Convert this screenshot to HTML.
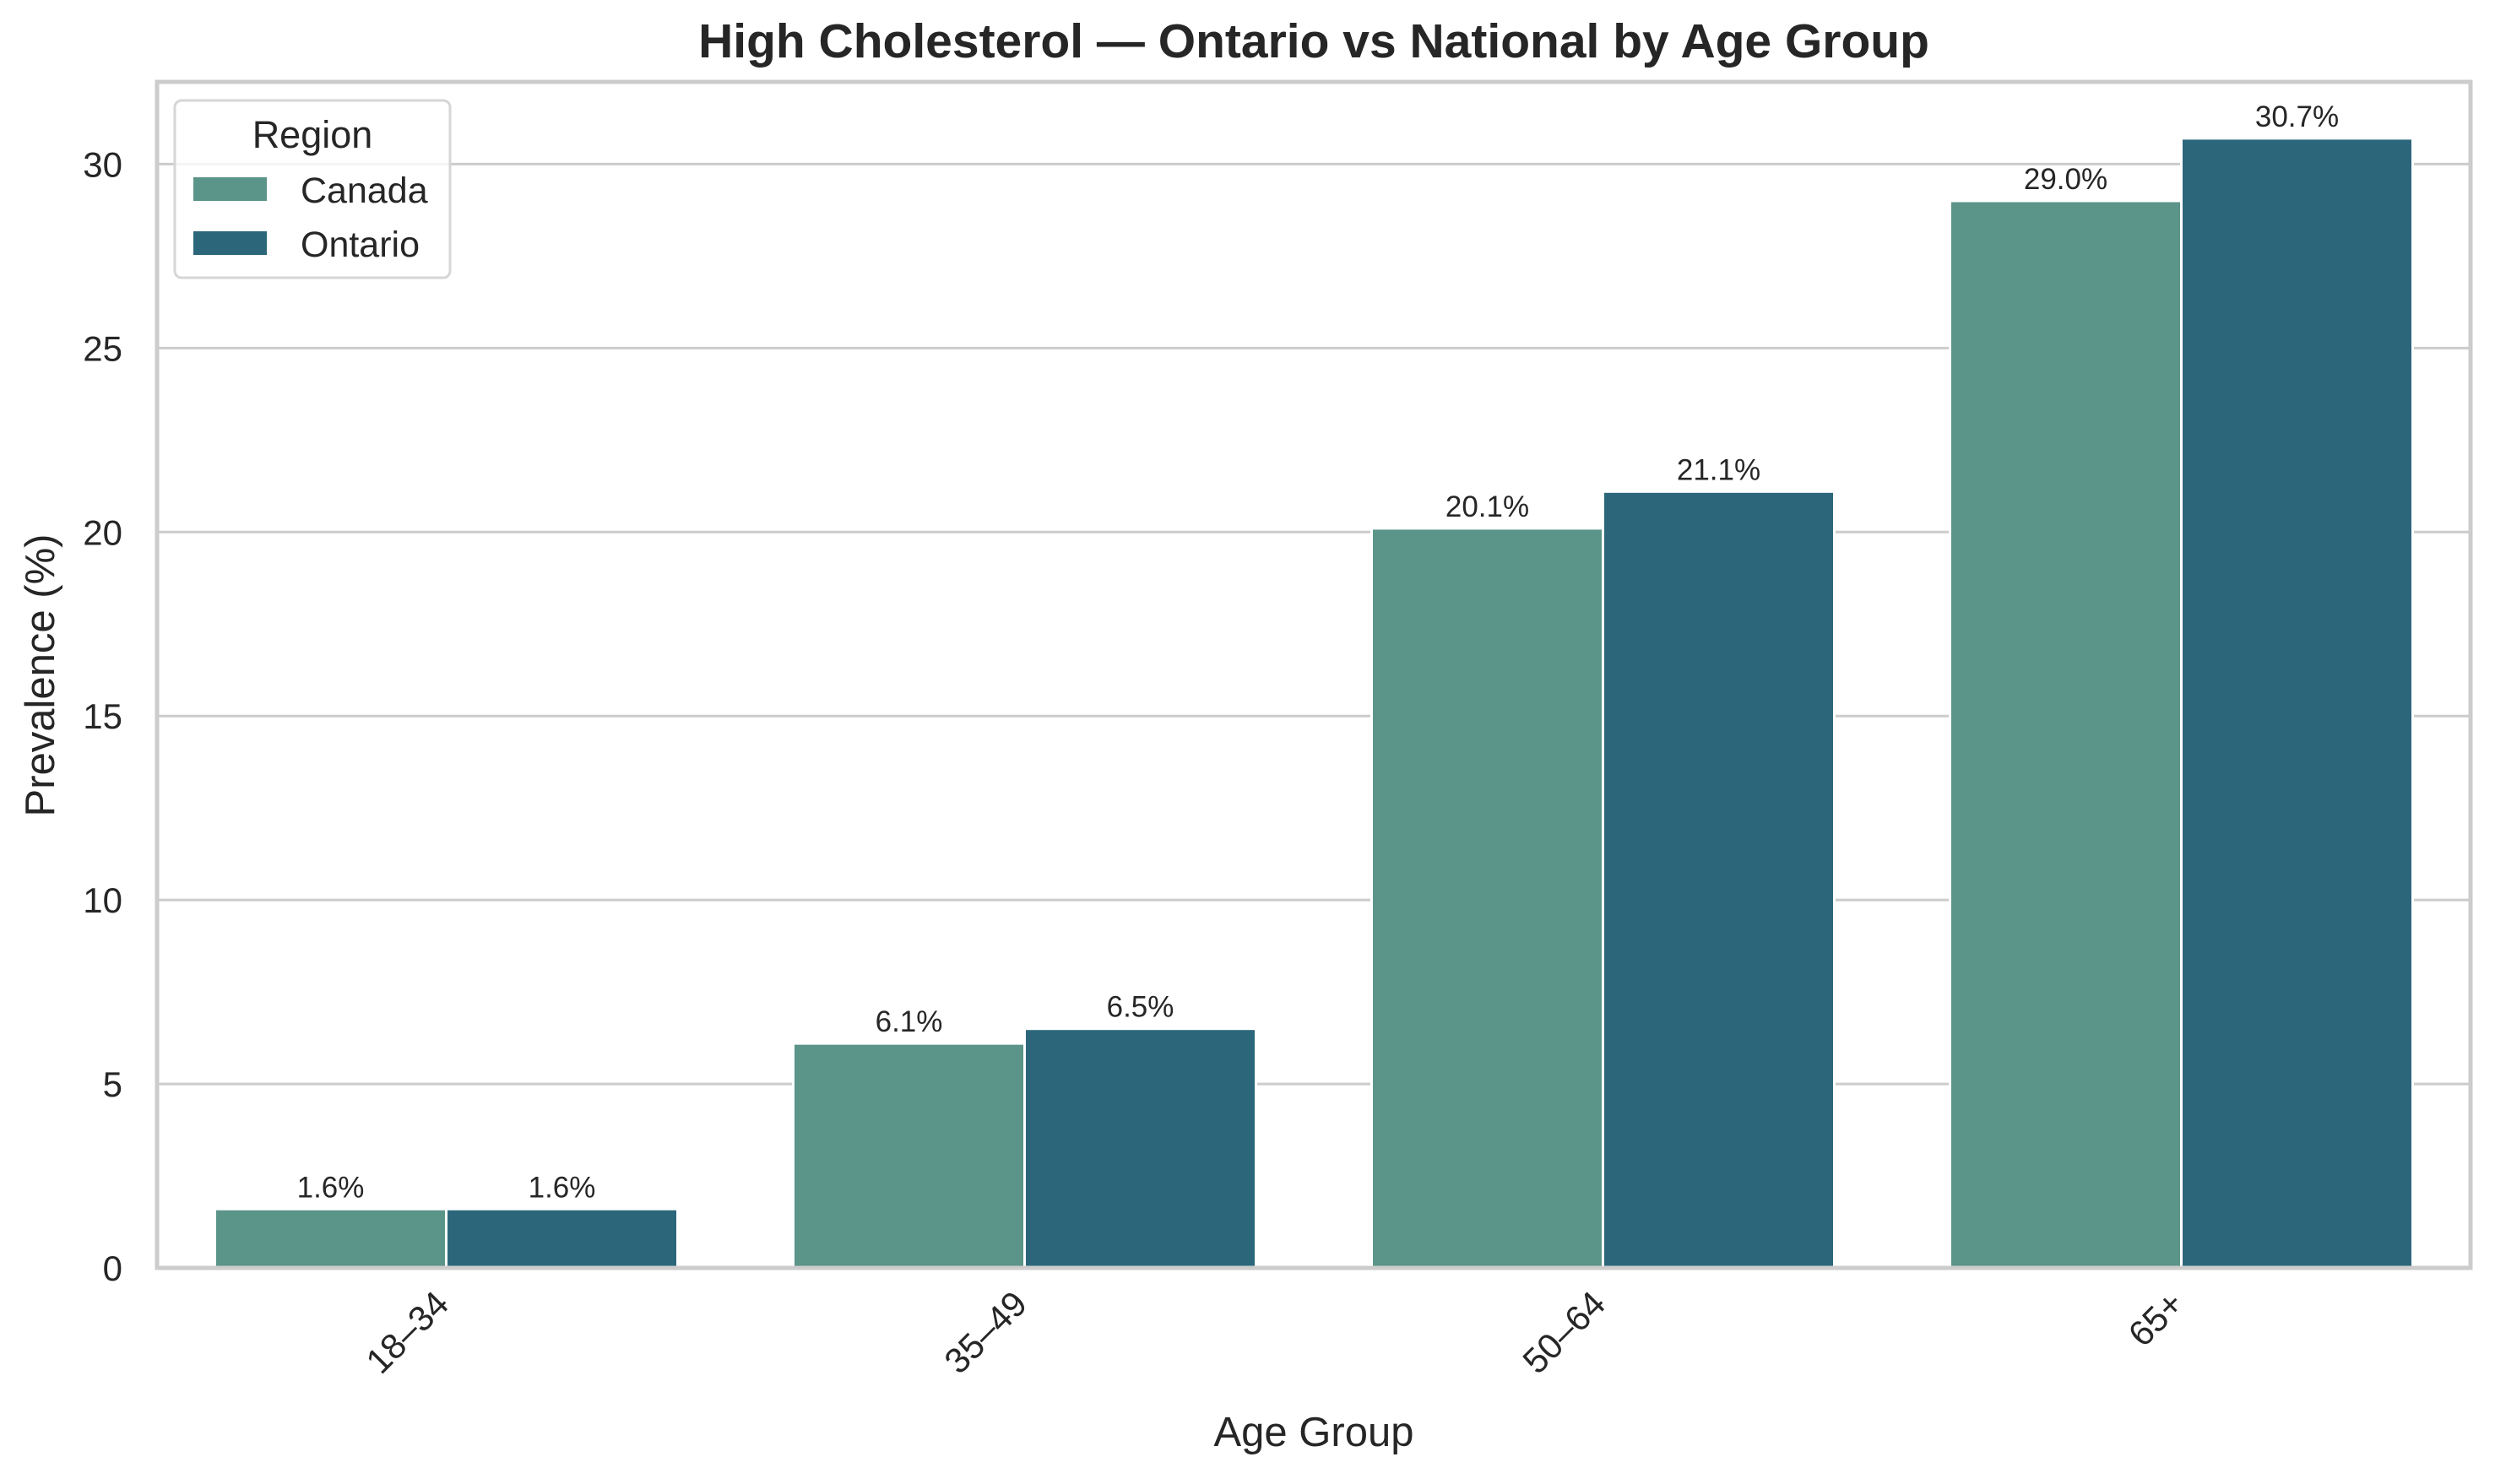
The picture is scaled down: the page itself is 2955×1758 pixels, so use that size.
<!DOCTYPE html>
<html><head><meta charset="utf-8"><style>
body{margin:0;background:#fff}
svg text{font-family:"Liberation Sans",Arial,sans-serif;fill:#262626}
</style></head><body>
<svg id="chart" width="2955" height="1753" viewBox="0 0 2955 1753" xmlns="http://www.w3.org/2000/svg">
<rect width="2955" height="1753" fill="#fff"/>
<text x="1556" y="68" text-anchor="middle" font-size="57" font-weight="bold">High Cholesterol — Ontario vs National by Age Group</text>
<g id="grid"></g>
<g id="bars"></g>
<g id="yticks"></g>
<g id="xticks"></g>
<rect x="186" y="97" width="2740" height="1405" fill="none" stroke="#cccccc" stroke-width="5"/>
<text x="1556" y="1713" text-anchor="middle" font-size="49">Age Group</text>
<text x="64" y="800" text-anchor="middle" font-size="49" transform="rotate(-90 64 800)">Prevalence (%)</text>
<g>
<rect x="207" y="119" width="326" height="210" rx="8" fill="#fff" fill-opacity="0.8" stroke="#d6d6d6" stroke-width="3"/>
<text x="370" y="175" text-anchor="middle" font-size="45">Region</text>
<rect x="229" y="210" width="87" height="28" fill="#5b9489"/>
<text x="356" y="240" font-size="43">Canada</text>
<rect x="229" y="274" width="87" height="28" fill="#2c667b"/>
<text x="356" y="304" font-size="43">Ontario</text>
</g>
</svg>
<script>
const categories=["18–34","35–49","50–64","65+"];
const canada=[1.6,6.1,20.1,29.0];
const ontario=[1.6,6.5,21.1,30.7];
const yTicks=[0,5,10,15,20,25,30];
const NS="http://www.w3.org/2000/svg";
const L=186,R=2926,T=97,B=1502,yMax=32.235;
const y=v=>B-(v/yMax)*(B-T);
const band=(R-L)/categories.length;
const xc=i=>L+band*(i+0.5);
const bw=band*0.4;
function mk(tag,attrs,parent){const e=document.createElementNS(NS,tag);for(const k in attrs)e.setAttribute(k,attrs[k]);document.getElementById(parent).appendChild(e);return e;}
yTicks.forEach(t=>{
  const g=mk('line',{x1:L,x2:R,y1:y(t),y2:y(t),stroke:'#cccccc','stroke-width':3},'grid');
  
  
  const tx=mk('text',{x:145,y:y(t)+15,'text-anchor':'end','font-size':42},'yticks');
  tx.textContent=t;
  
  
});
const series=[{vals:canada,color:'#5b9489',name:'canada',off:-1},{vals:ontario,color:'#2c667b',name:'ontario',off:0}];
categories.forEach((c,i)=>{
  series.forEach(s=>{
    const x0=xc(i)+s.off*bw, v=s.vals[i];
    const r=mk('rect',{x:x0,y:y(v),width:bw,height:B-y(v),fill:s.color,stroke:'#fff','stroke-width':3},'bars');
    
    
    const t=mk('text',{x:x0+bw/2,y:y(v)-14,'text-anchor':'middle','font-size':35},'bars');
    t.textContent=v.toFixed(1)+'%';
    
    
  });
  const px=xc(i)-16, py=1526;
  const lt=mk('text',{x:px,y:py+30,'text-anchor':'end','font-size':42,transform:`rotate(-45 ${px} ${py})`},'xticks');
  lt.textContent=c;
  
  
});
</script>
</body></html>
